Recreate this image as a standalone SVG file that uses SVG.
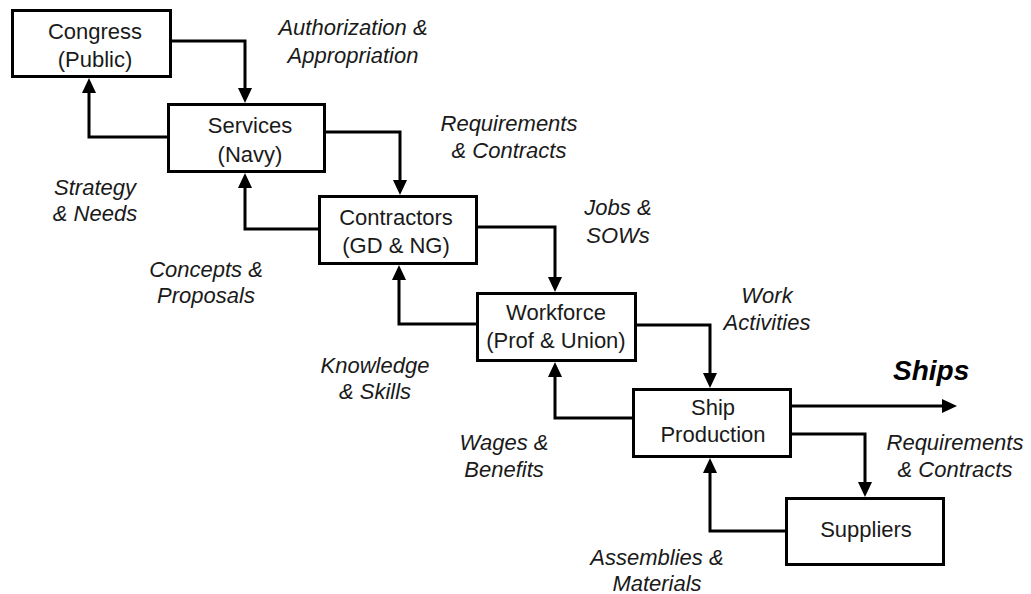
<svg xmlns="http://www.w3.org/2000/svg" width="1031" height="594" viewBox="0 0 1031 594">
<style>
.box{fill:#fff;stroke:#000;stroke-width:3}
.node{font-family:"Liberation Sans",Arial,sans-serif;font-size:22px;fill:#1a1a1a;text-anchor:middle}
.lbl{font-family:"Liberation Sans",Arial,sans-serif;font-size:22px;font-style:italic;fill:#1a1a1a;text-anchor:middle}
.ships{font-family:"Liberation Sans",Arial,sans-serif;font-size:28px;font-style:italic;font-weight:bold;fill:#000}
.conn{fill:none;stroke:#000;stroke-width:3;marker-end:url(#ah)}
</style>
<defs>
<marker id="ah" markerUnits="userSpaceOnUse" viewBox="0 0 15 14" refX="11" refY="7" markerWidth="15" markerHeight="14" orient="auto">
<path d="M0,0 L15,7 L0,14 z" fill="#000"/>
</marker>
</defs>
<rect width="1031" height="594" fill="#fff"/>
<g id="connectors">
<path class="conn" d="M172,41 H245 V99"/>
<path class="conn" d="M167,137 H89 V82"/>
<path class="conn" d="M326,132 H400 V191"/>
<path class="conn" d="M318,229 H245 V177"/>
<path class="conn" d="M478,227 H555 V288"/>
<path class="conn" d="M476,324 H399 V269"/>
<path class="conn" d="M637,325 H710 V384"/>
<path class="conn" d="M632,418 H555 V366"/>
<path class="conn" d="M792,406 H953"/>
<path class="conn" d="M792,434 H865 V493"/>
<path class="conn" d="M785,531 H710 V462"/>
</g>
<g id="congress">
<rect class="box" x="12.5" y="10.5" width="158" height="66"/>
<text class="node" x="95" y="39">Congress</text>
<text class="node" x="95" y="67">(Public)</text>
</g>
<g id="services">
<rect class="box" x="168.5" y="104.5" width="156" height="67"/>
<text class="node" x="250" y="133">Services</text>
<text class="node" x="250" y="162">(Navy)</text>
</g>
<g id="contractors">
<rect class="box" x="319.5" y="196.5" width="157" height="67"/>
<text class="node" x="396" y="225">Contractors</text>
<text class="node" x="396" y="253">(GD &amp; NG)</text>
</g>
<g id="workforce">
<rect class="box" x="477.5" y="293.5" width="158" height="67"/>
<text class="node" x="556" y="320">Workforce</text>
<text class="node" x="556" y="348">(Prof &amp; Union)</text>
</g>
<g id="ship-production">
<rect class="box" x="633.5" y="389.5" width="157" height="67"/>
<text class="node" x="713" y="415">Ship</text>
<text class="node" x="713" y="442">Production</text>
</g>
<g id="suppliers">
<rect class="box" x="786.5" y="498.5" width="157" height="66"/>
<text class="node" x="866" y="537">Suppliers</text>
</g>
<g id="labels">
<text class="lbl" x="353" y="35">Authorization &amp;</text>
<text class="lbl" x="353" y="63">Appropriation</text>
<text class="lbl" x="509" y="131">Requirements</text>
<text class="lbl" x="509" y="158">&amp; Contracts</text>
<text class="lbl" x="95" y="195">Strategy</text>
<text class="lbl" x="95" y="221">&amp; Needs</text>
<text class="lbl" x="618" y="215">Jobs &amp;</text>
<text class="lbl" x="618" y="243">SOWs</text>
<text class="lbl" x="206" y="277">Concepts &amp;</text>
<text class="lbl" x="206" y="303">Proposals</text>
<text class="lbl" x="767" y="303">Work</text>
<text class="lbl" x="767" y="330">Activities</text>
<text class="lbl" x="375" y="373">Knowledge</text>
<text class="lbl" x="375" y="399">&amp; Skills</text>
<text class="lbl" x="504" y="450">Wages &amp;</text>
<text class="lbl" x="504" y="477">Benefits</text>
<text class="lbl" x="955" y="450">Requirements</text>
<text class="lbl" x="955" y="477">&amp; Contracts</text>
<text class="lbl" x="657" y="565">Assemblies &amp;</text>
<text class="lbl" x="657" y="591">Materials</text>
<text class="ships" x="893" y="380">Ships</text>
</g>
</svg>
